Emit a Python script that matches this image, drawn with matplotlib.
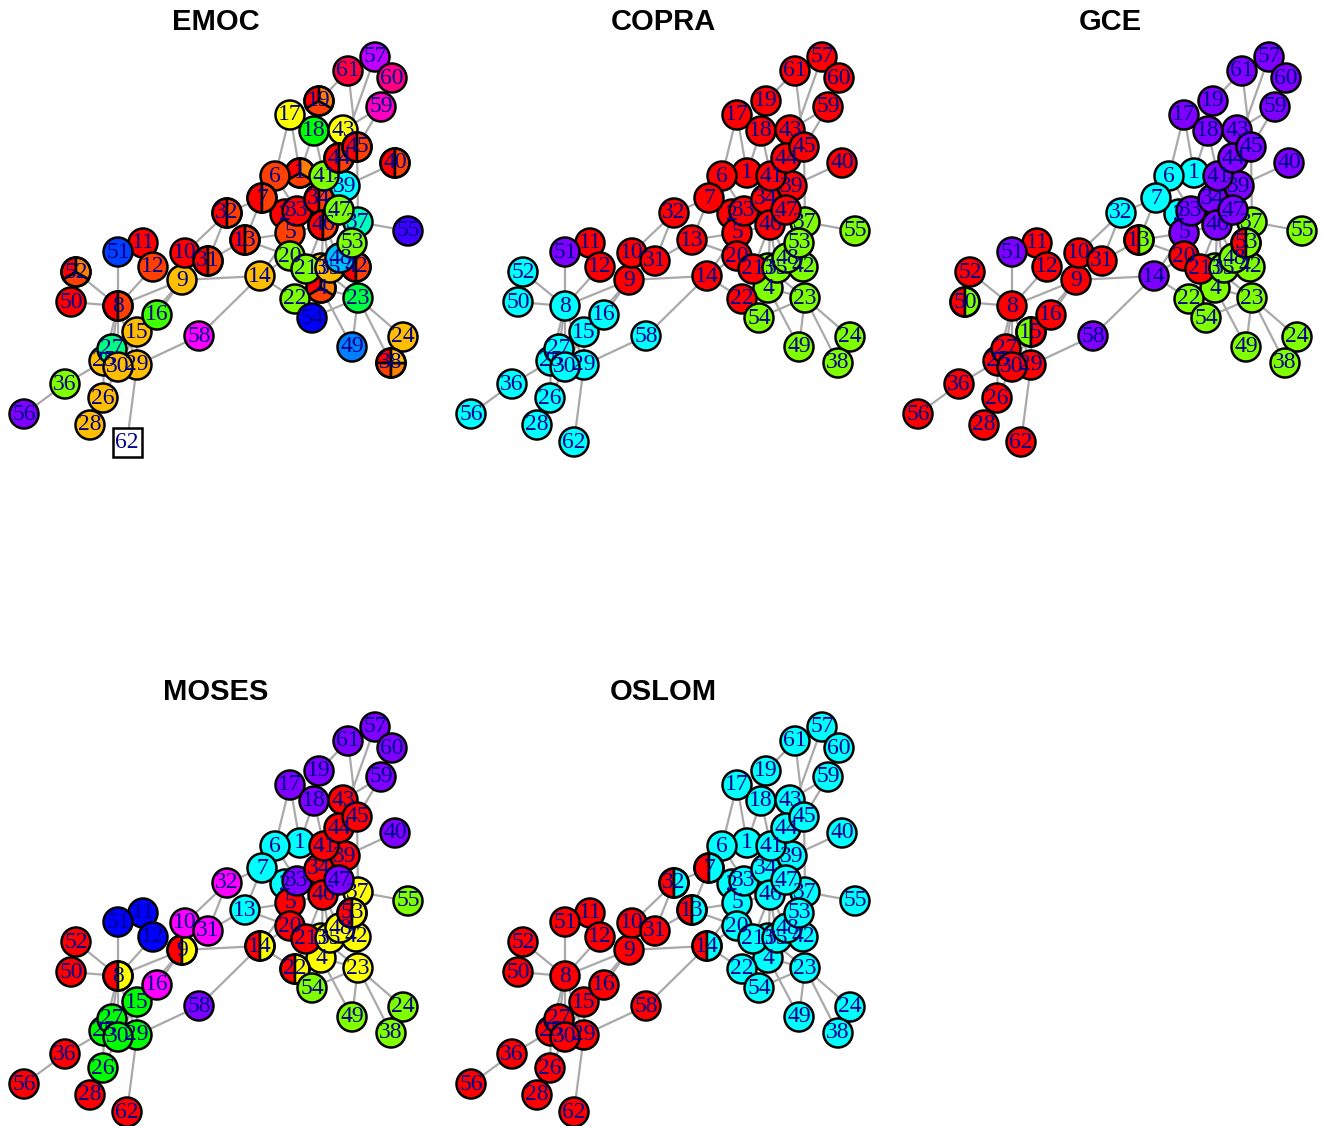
import colorsys
import matplotlib
matplotlib.use("Agg")
import matplotlib.pyplot as plt
from matplotlib.patches import Circle, Wedge, Rectangle

# Shared vertex layout (x to the right, y downward), vertices 1..62
node_x = [300, 285, 321, 321, 290, 275, 262, 118, 182, 185,
          143, 153, 245, 260, 137, 157, 290, 314, 319, 290,
          306, 295, 358, 403, 104, 103, 112, 90, 137, 118,
          208, 227, 297, 319, 330, 65, 358, 391, 345, 395,
          324, 356, 343, 339, 357, 323, 339, 340, 352, 71,
          118, 76, 352, 312, 408, 24, 375, 199, 381, 392,
          348, 127]
node_y = [173, 214, 268, 288, 233, 176, 198, 306, 280, 253,
          243, 267, 240, 276, 332, 315, 115, 131, 101, 256,
          269, 299, 298, 337, 361, 398, 349, 425, 365, 367,
          261, 213, 211, 199, 268, 384, 222, 363, 186, 163,
          176, 267, 130, 158, 147, 225, 210, 258, 347, 302,
          252, 272, 243, 318, 231, 414, 57, 336, 107, 78,
          71, 442]

edges = [(56, 36), (36, 25), (25, 26), (26, 30), (26, 28), (62, 29), (29, 58),
         (58, 14), (8, 51), (8, 52), (8, 50), (8, 12), (8, 9), (8, 27), (8, 25),
         (8, 30), (8, 29), (9, 16), (9, 15), (15, 29), (15, 30), (9, 14), (9, 10),
         (10, 32), (31, 32), (31, 13), (11, 51), (7, 32), (7, 13), (13, 5),
         (13, 20), (14, 20), (14, 5), (14, 22), (6, 7), (6, 17), (1, 17), (1, 18),
         (41, 18), (61, 19), (61, 45), (57, 44), (59, 45), (59, 43), (45, 37),
         (40, 39), (55, 37), (23, 54), (23, 49), (23, 24), (23, 38), (4, 49),
         (6, 1), (1, 41), (41, 34), (34, 47), (34, 46), (33, 46), (5, 46),
         (46, 21), (46, 4), (46, 48), (47, 37), (47, 53), (37, 53), (53, 42),
         (48, 42), (3, 4), (21, 4), (20, 21), (20, 5), (5, 33), (39, 47),
         (44, 41), (43, 44), (18, 43), (22, 4), (54, 4), (3, 23), (42, 23),
         (4, 23), (7, 33), (6, 33), (2, 33), (35, 48), (35, 46), (60, 57),
         (61, 57)]

methods = ["EMOC", "COPRA", "GCE", "MOSES", "OSLOM"]
n_colors = [24, 4, 4, 12, 2]

# Community memberships of vertices 1..62 for each method
emoc = [(0, 1, 2), (0,), (3,), (0, 1, 2), (1,), (1,), (0, 1), (0, 1), (3,), (0,),
        (0,), (1,), (0, 1), (3,), (3,), (7,), (4,), (8,), (0, 1, 2), (6,),
        (6,), (6,), (9,), (3,), (3,), (3,), (10,), (3,), (3,), (3,),
        (0, 1), (0, 1), (0,), (0, 1), (3,), (6,), (11,), (0, 1, 2, 3), (12,), (0, 1),
        (6,), (0, 1), (4,), (0, 1), (0, 1), (0, 1), (6,), (13,), (14,), (0,),
        (15,), (0, 1, 2), (6,), (16,), (17,), (18,), (19,), (20,), (21,), (22,),
        (23,), ()]
copra = [(0,), (0,), (1,), (1,), (0,), (0,), (0,), (2,), (0,), (0,),
         (0,), (0,), (0,), (0,), (2,), (2,), (0,), (0,), (0,), (0,),
         (0,), (0,), (1,), (1,), (2,), (2,), (2,), (2,), (2,), (2,),
         (0,), (0,), (0,), (0,), (1,), (2,), (1,), (1,), (0,), (0,),
         (0,), (1,), (0,), (0,), (0,), (0,), (0,), (1,), (1,), (2,),
         (3,), (2,), (1,), (1,), (1,), (2,), (0,), (2,), (0,), (0,),
         (0,), (2,)]
gce = [(2,), (2,), (1,), (1,), (3,), (2,), (2,), (0,), (0,), (0,),
       (0,), (0,), (0, 1), (3,), (1, 0), (0,), (3,), (3,), (3,), (0,),
       (0,), (1,), (1,), (1,), (0,), (0,), (0,), (0,), (0,), (0,),
       (0,), (2,), (3,), (3,), (1,), (0,), (1,), (1,), (3,), (3,),
       (3,), (1,), (3,), (3,), (3,), (3,), (3,), (1,), (1,), (0, 1),
       (3,), (0,), (0, 1), (1,), (1,), (0,), (3,), (3,), (3,), (3,),
       (3,), (0,)]
moses = [(6,), (6,), (2,), (2,), (0,), (6,), (6,), (0, 2), (0, 2), (10,),
         (8,), (8,), (6,), (0, 2), (4,), (10,), (9,), (9,), (9,), (0,),
         (0,), (0, 2), (2,), (3,), (4,), (4,), (4,), (0,), (4,), (4,),
         (10,), (10,), (9,), (0,), (2,), (0,), (2,), (3,), (0,), (9,),
         (0,), (2,), (0,), (0,), (0,), (0,), (9,), (2,), (3,), (0,),
         (8,), (0,), (0, 2), (3,), (3,), (0,), (9,), (9,), (9,), (9,),
         (9,), (0,)]
oslom = [(1,), (1,), (1,), (1,), (1,), (1,), (0, 1), (0,), (0,), (0,),
         (0,), (0,), (0, 1), (0, 1), (0,), (0,), (1,), (1,), (1,), (1,),
         (1,), (1,), (1,), (1,), (0,), (0,), (0,), (0,), (0,), (0,),
         (0,), (0, 1), (1,), (1,), (1,), (0,), (1,), (1,), (1,), (1,),
         (1,), (1,), (1,), (1,), (1,), (1,), (1,), (1,), (1,), (0,),
         (0,), (0,), (1,), (1,), (1,), (0,), (1,), (0,), (1,), (1,),
         (1,), (0,)]
memberships = [emoc, copra, gce, moses, oslom]


def rainbow(n):
    return [colorsys.hsv_to_rgb(i / n, 1.0, 1.0) for i in range(n)]


FIG_W, FIG_H = 1323, 1126
PANEL_W, PANEL_H = 429, 456
COL_STEP, ROW_STEP = 447, 670
R = 14.5
LW = 1.8

fig = plt.figure(figsize=(FIG_W / 100, FIG_H / 100), dpi=100)
fig.patch.set_facecolor("white")

for k, name in enumerate(methods):
    row, col = divmod(k, 3)
    left = col * COL_STEP / FIG_W
    bottom = 1 - (row * ROW_STEP + PANEL_H) / FIG_H
    ax = fig.add_axes([left, bottom, PANEL_W / FIG_W, PANEL_H / FIG_H])
    ax.set_xlim(0, PANEL_W)
    ax.set_ylim(PANEL_H, 0)
    ax.axis("off")
    pal = rainbow(n_colors[k])
    memb = memberships[k]

    for a, b in edges:
        ax.plot([node_x[a - 1], node_x[b - 1]], [node_y[a - 1], node_y[b - 1]],
                color="#A9A9A9", lw=1.6, zorder=1, solid_capstyle="butt")

    for i in range(len(node_x)):
        cx, cy = node_x[i], node_y[i]
        groups = memb[i]
        z = 2 + i
        if len(groups) == 0:
            ax.add_patch(Rectangle((cx - R, cy - R), 2 * R, 2 * R, facecolor="white",
                                   edgecolor="black", lw=LW, zorder=z, clip_on=False))
        elif len(groups) == 1:
            ax.add_patch(Circle((cx, cy), R, facecolor=pal[groups[0]],
                                edgecolor="black", lw=LW, zorder=z, clip_on=False))
        else:
            step = 360.0 / len(groups)
            for j, g in enumerate(groups):
                # screen angles run counter-clockwise from the top; y axis is flipped
                s0 = 90 + j * step
                s1 = 90 + (j + 1) * step
                ax.add_patch(Wedge((cx, cy), R, -s1, -s0, facecolor=pal[g],
                                   edgecolor="black", lw=LW, zorder=z, clip_on=False))
            ax.add_patch(Circle((cx, cy), R, facecolor="none",
                                edgecolor="black", lw=LW, zorder=z, clip_on=False))

    for i in range(len(node_x)):
        ax.text(node_x[i], node_y[i], str(i + 1), ha="center", va="center",
                fontsize=17, color="#00008B", family="Liberation Serif", zorder=200,
                clip_on=False)

    ax.text(216 / PANEL_W, 1 - 22 / PANEL_H, name, transform=ax.transAxes,
            ha="center", va="center", fontsize=21, fontweight="bold",
            family="Liberation Sans", color="black")

fig.savefig("out.png", dpi=100, facecolor="white")
